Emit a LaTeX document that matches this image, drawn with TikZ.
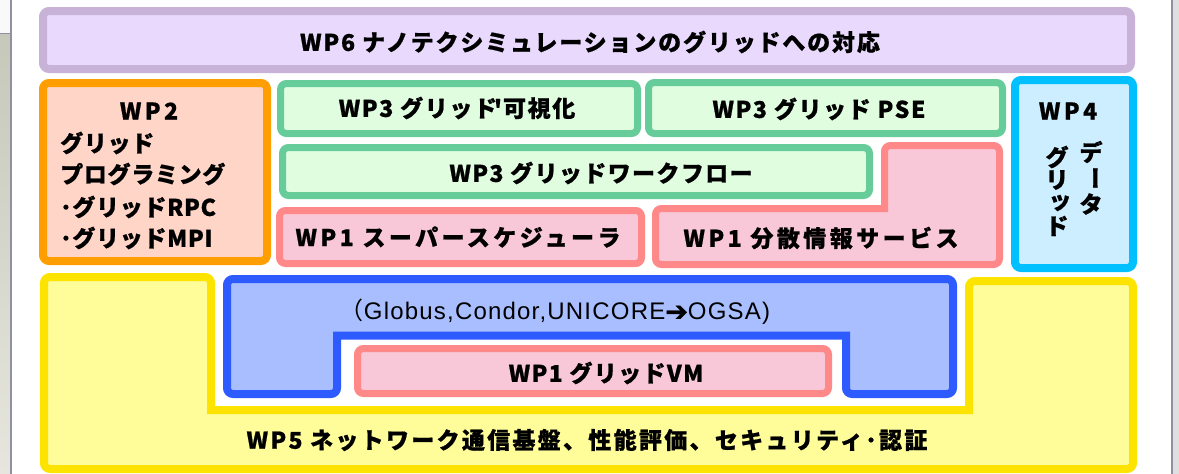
\documentclass[tikz,border=0pt]{standalone}
\usepackage{fontspec}
\usepackage{graphicx}
\newfontfamily\jpZ{Noto Sans CJK JP}[BoldFeatures={FakeBold=0.8}]
\newfontfamily\jpC{Noto Sans CJK JP}[LetterSpace=3, BoldFeatures={FakeBold=0.8}]
\newfontfamily\jpF{Noto Sans CJK JP}[LetterSpace=6, BoldFeatures={FakeBold=0.8}]
\newfontfamily\jpG{Noto Sans CJK JP}[LetterSpace=7, BoldFeatures={FakeBold=0.8}]
\newfontfamily\jpH{Noto Sans CJK JP}[LetterSpace=8, BoldFeatures={FakeBold=0.8}]
\newfontfamily\jpJ{Noto Sans CJK JP}[LetterSpace=10, BoldFeatures={FakeBold=0.8}]
\newfontfamily\jpO{Noto Sans CJK JP}[LetterSpace=15, BoldFeatures={FakeBold=0.8}]
\newfontfamily\jpR{Noto Sans CJK JP}
\newfontfamily\arl{Liberation Sans}[LetterSpace=5]
\newfontfamily\dvs{DejaVu Sans}[FakeBold=1.5]
\definecolor{purS}{RGB}{200,178,216}
\definecolor{purF}{RGB}{233,217,253}
\definecolor{orgS}{RGB}{255,158,0}
\definecolor{orgF}{RGB}{255,213,200}
\definecolor{grnS}{RGB}{102,204,153}
\definecolor{grnF}{RGB}{224,253,224}
\definecolor{pnkS}{RGB}{255,136,136}
\definecolor{pnkF}{RGB}{249,200,216}
\definecolor{cynS}{RGB}{0,192,255}
\definecolor{cynF}{RGB}{204,238,255}
\definecolor{ylwS}{RGB}{252,228,0}
\definecolor{ylwF}{RGB}{255,253,153}
\definecolor{bluS}{RGB}{46,91,255}
\definecolor{bluF}{RGB}{168,190,255}
\definecolor{edgeL}{RGB}{144,144,160}
\tikzset{
  box/.style={line width=8pt, rounded corners=6pt, line join=miter},
  thin box/.style={line width=7pt, rounded corners=6pt, line join=miter},
  lbl/.style={inner sep=0pt, font=\bfseries\fontsize{23}{26}\selectfont},
  lblL/.style={lbl, anchor=west},
  vch/.style={lbl, font=\jpZ\bfseries\fontsize{23}{26}\selectfont},
}
\begin{document}
\begin{tikzpicture}[x=1pt,y=-1pt]
\useasboundingbox (0,0) rectangle (1179,474);
% window edges
\shade[top color={rgb,255:red,198;green,200;blue,186}, bottom color={rgb,255:red,230;green,230;blue,222}] (0,33) rectangle (10,474);
\fill[white!95!gray] (0,0) rectangle (10,33);
\draw[edgeL, line width=1pt] (0,33) -- (11,33);
\draw[edgeL, line width=2pt] (11,0) -- (11,474);
\fill[gray!25] (1173,0) rectangle (1179,474);
\draw[edgeL, line width=2.5pt] (1172,0) -- (1172,474);

% WP6
\draw[box, draw=purS, fill=purF] (43,11) rectangle (1131,69);
\node[lbl] (t6) at (590,42) {\jpH WP6 ナノテクシミュレーションのグリッドへの対応};

% WP2
\draw[box, draw=orgS, fill=orgF] (43,83) rectangle (267,261);
\node[lbl] (t2) at (149,111) {\jpO WP2};
\node[lblL] (t2a) at (60,143) {\jpC グリッド};
\node[lblL] (t2b) at (60,174) {\jpC プログラミング};
\node[lblL] (t2c) at (60,207) {\jpC ･グリッドRPC};
\node[lblL] (t2d) at (60,238) {\jpC ･グリッドMPI};

% WP3 boxes
\draw[thin box, draw=grnS, fill=grnF] (280.5,83.5) rectangle (637.5,133.5);
\node[lbl] (t3a) at (457,108) {\jpG WP3 グリッド\kern-3pt'\kern1pt 可視化};
\draw[thin box, draw=grnS, fill=grnF] (648.5,82.5) rectangle (1002.5,133.5);
\node[lbl] (t3b) at (819,109) {\jpG WP3 グリッド PSE};
\draw[thin box, draw=grnS, fill=grnF] (282.5,147.5) rectangle (869.5,195.5);
\node[lbl] (t3c) at (601,173) {\jpF WP3 グリッドワークフロー};

% WP1 boxes
\draw[thin box, draw=pnkS, fill=pnkF] (279.5,210.5) rectangle (641.5,263.5);
\node[lbl] (t1a) at (458,237) {\jpO WP1 スーパースケジューラ};
\draw[thin box, draw=pnkS, fill=pnkF]
  (655.5,236) -- (655.5,208.5) [sharp corners] -- (884.5,208.5) [rounded corners=6pt] -- (884.5,145.5)
  -- (999.5,145.5) -- (999.5,264.5) -- (655.5,264.5) -- cycle;
\node[lbl] (t1b) at (821,238) {\jpO WP1 分散情報サービス};

% WP4
\draw[box, draw=cynS, fill=cynF] (1015,80) rectangle (1133,268);
\node[lbl] (t4) at (1068,111) {\jpO WP4};
\node[vch] (d1) at (1091,152) {デ};
\node[vch, rotate=-90] (d2) at (1092,178) {ー};
\node[vch] (d3) at (1091,204) {タ};
\node[vch] (g1) at (1057,157) {グ};
\node[vch] (g2) at (1057,180) {リ};
\node[vch] (g3) at (1060,203) {ッ};
\node[vch] (g4) at (1057,226) {ド};

% WP5 yellow
\draw[box, draw=ylwS, fill=ylwF]
  (44,380) -- (44,277) -- (211,277) -- (211,340) [sharp corners] -- (211,410) -- (600,410) -- (969,410) [rounded corners=6pt] -- (969,281)
  -- (1133,281) -- (1133,469) -- (44,469) -- cycle;
\node[lbl] (t5) at (587,440) {\jpJ WP5 ネットワーク通信基盤、性能評価、セキュリティ･認証};

% blue middleware
\draw[box, draw=bluS, fill=bluF]
  (227,320) -- (227,279) -- (953,279) -- (953,394) -- (846,394) -- (846,370) [sharp corners] -- (846,335.5) -- (337,335.5) [rounded corners=6pt] -- (337,394)
  -- (227,394) -- cycle;
\node[inner sep=0pt, font=\arl\fontsize{24}{26}\selectfont] (tm) at (555,312)
  {{\jpR （}Globus,Condor,UNICORE{\dvs\fontsize{27}{26}\selectfont\raisebox{-1pt}{➔}}OGSA)};

% WP1 VM
\draw[thin box, draw=pnkS, fill=pnkF] (357.5,348.5) rectangle (828.5,393.5);
\node[lbl] (t1c) at (606,373) {\jpF WP1 グリッドVM};
\end{tikzpicture}
\end{document}
